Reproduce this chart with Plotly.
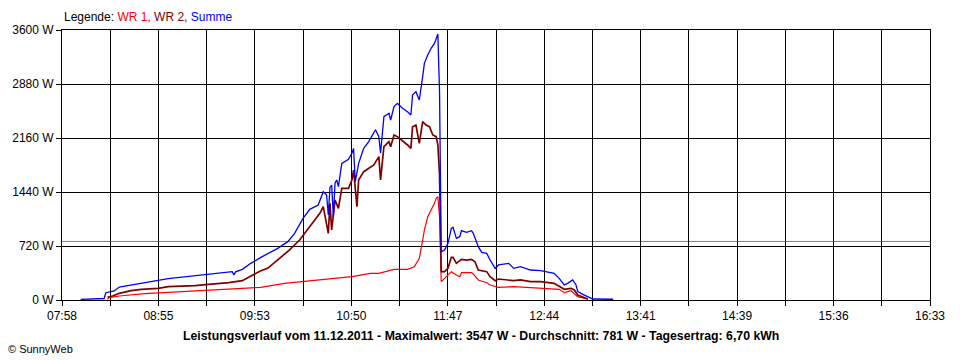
import plotly.graph_objects as go

# ---------------- data ----------------
time_sum = ["08:09","08:23","08:24","08:29","08:32","08:41","08:45","08:55","09:01","09:13",
            "09:25","09:29","09:39","09:40","09:41","09:45","09:50","09:56","10:00","10:06",
            "10:12","10:16","10:21","10:25","10:30","10:33","10:35","10:36","10:37","10:38",
            "10:39","10:40","10:41","10:42","10:44","10:48","10:50","10:51","10:52","10:54",
            "10:57","11:00","11:04","11:06","11:07","11:09","11:12","11:13","11:15","11:17",
            "11:20","11:23","11:25","11:26","11:28","11:30","11:32","11:33","11:35","11:37",
            "11:39","11:40","11:41","11:42","11:43","11:45","11:47","11:49","11:50","11:52",
            "11:54","11:55","11:58","12:01","12:02","12:05","12:07","12:10","12:12","12:15",
            "12:17","12:23","12:26","12:30","12:36","12:42","12:46","12:50","12:53","12:56",
            "12:58","13:01","13:03","13:04","13:07","13:10","13:13","13:25"]
val_sum = [8, 20, 97, 120, 173, 209, 231, 262, 284, 311,
           342, 347, 378, 333, 375, 409, 489, 569, 613, 689,
           778, 889, 1089, 1209, 1267, 1444, 1400, 1133, 1500, 1533,
           1111, 1560, 1600, 1511, 1822, 1876, 1956, 2022, 1578, 1822,
           2022, 2111, 2270, 2178, 1956, 2444, 2489, 2400, 2578, 2622,
           2556, 2511, 2467, 2733, 2778, 2667, 2978, 3156, 3267, 3356,
           3422, 3489, 3547, 2778, 644, 667, 756, 956, 969, 822,
           844, 924, 902, 924, 889, 711, 636, 622, 533, 422,
           467, 489, 422, 444, 400, 391, 378, 356, 289, 200,
           222, 267, 200, 111, 76, 44, 13, 10]

time_wr2 = ["08:25","08:28","08:32","08:39","08:45","08:55","09:01","09:17","09:25","09:37",
            "09:45","09:50","09:56","10:00","10:06","10:13","10:19","10:22","10:26","10:31",
            "10:33","10:36","10:37","10:38","10:40","10:42","10:44","10:48","10:50","10:51",
            "10:53","10:54","10:57","11:01","11:03","11:06","11:07","11:09","11:12","11:13",
            "11:15","11:17","11:21","11:23","11:25","11:26","11:28","11:30","11:32","11:34",
            "11:36","11:38","11:40","11:41","11:42","11:43","11:45","11:47","11:49","11:50",
            "11:52","11:54","11:55","11:58","12:01","12:03","12:05","12:10","12:12","12:15",
            "12:17","12:26","12:30","12:36","12:42","12:50","12:53","12:56","13:00","13:02",
            "13:04","13:07","13:10"]
val_wr2 = [36, 53, 89, 124, 142, 156, 178, 191, 209, 231,
           258, 320, 391, 422, 533, 667, 800, 889, 1000, 1156,
           1244, 889, 1289, 933, 1333, 1222, 1489, 1489, 1600, 1733,
           1244, 1600, 1711, 1778, 1800, 1911, 1600, 2044, 2111, 2044,
           2200, 2178, 2111, 2067, 2022, 2311, 2333, 2089, 2378, 2333,
           2311, 2200, 2178, 2067, 1667, 378, 378, 422, 569, 569,
           489, 530, 542, 533, 542, 511, 400, 378, 311, 258,
           280, 258, 267, 244, 244, 222, 187, 142, 156, 133,
           67, 36, 13]

time_wr1 = ["08:25","08:26","08:32","08:39","08:47","09:01","09:17","09:27","09:43","09:56",
            "10:10","10:30","10:50","11:01","11:06","11:15","11:23","11:27","11:30","11:32",
            "11:33","11:35","11:37","11:39","11:40","11:41","11:42","11:43","11:45","11:49",
            "11:52","11:54","11:55","12:01","12:02","12:05","12:10","12:12","12:17","12:26",
            "12:36","12:46","12:53","12:56","13:00","13:04","13:07","13:10"]
val_wr1 = [10, 31, 53, 71, 84, 102, 124, 133, 156, 169,
           222, 267, 311, 356, 356, 409, 409, 444, 556, 800,
           933, 1111, 1200, 1289, 1356, 1378, 1111, 244, 289, 378,
           333, 311, 364, 364, 347, 267, 231, 200, 169, 178,
           164, 156, 142, 98, 124, 44, 22, 10]

average_w = 781
y_ticks = [0, 720, 1440, 2160, 2880, 3600]
x_start, x_end = "07:58", "16:33"
x_tick_labels = ["07:58", "08:55", "09:53", "10:50", "11:47", "12:44",
                 "13:41", "14:39", "15:36", "16:33"]
legend_names = ["WR 1", "WR 2", "Summe"]
title_text = ("Leistungsverlauf vom 11.12.2011 - Maximalwert: 3547 W - "
              "Durchschnitt: 781 W - Tagesertrag: 6,70 kWh")


def to_min(s):
    h, m = s.split(":")
    return int(h) * 60 + int(m)


FONT = "Arial, Liberation Sans, sans-serif"
x0, x1 = to_min(x_start), to_min(x_end)
n_int = 2 * (len(x_tick_labels) - 1)
step = (x1 - x0) / n_int
tickvals = [x0 + k * step for k in range(n_int + 1)]
ticktext = [x_tick_labels[k // 2] if k % 2 == 0 else "" for k in range(n_int + 1)]

fig = go.Figure()
fig.add_trace(go.Scatter(x=[to_min(t) for t in time_wr1], y=val_wr1, mode="lines",
                         line=dict(color="#FF0000", width=1.2), name=legend_names[0]))
fig.add_trace(go.Scatter(x=[to_min(t) for t in time_wr2], y=val_wr2, mode="lines",
                         line=dict(color="#800000", width=1.7), name=legend_names[1]))
fig.add_trace(go.Scatter(x=[to_min(t) for t in time_sum], y=val_sum, mode="lines",
                         line=dict(color="#0000FF", width=1.3), name=legend_names[2]))

fig.add_shape(type="line", xref="paper", x0=0, x1=1, yref="y", y0=average_w, y1=average_w,
              line=dict(color="#808080", width=1), layer="below")

fig.update_layout(
    width=960, height=360,
    margin=dict(l=60, r=30, t=30, b=60),
    paper_bgcolor="white", plot_bgcolor="white",
    showlegend=False,
    font=dict(family=FONT, size=12, color="black"),
    xaxis=dict(range=[x0, x1], tickvals=tickvals, ticktext=ticktext,
               showgrid=True, gridcolor="black", gridwidth=1,
               showline=True, linecolor="black", linewidth=1, mirror=True,
               ticks="outside", ticklen=5, tickcolor="black", tickwidth=1,
               zeroline=False, tickfont=dict(family=FONT, size=12, color="black")),
    yaxis=dict(range=[0, 3600], tickvals=y_ticks, ticktext=[f"{v} W" for v in y_ticks],
               showgrid=True, gridcolor="black", gridwidth=1,
               showline=True, linecolor="black", linewidth=1, mirror=True,
               ticks="outside", ticklen=5, tickcolor="black", tickwidth=1,
               zeroline=False, tickfont=dict(family=FONT, size=12, color="black")),
)

legend_html = ("Legende: <span style='color:#FF0000'>" + legend_names[0] + ",</span> "
               "<span style='color:#800000'>" + legend_names[1] + ",</span> "
               "<span style='color:#0000FF'>" + legend_names[2] + "</span>")
fig.add_annotation(text=legend_html, xref="paper", yref="paper", x=0, y=1.0,
                   xanchor="left", yanchor="bottom", yshift=4, showarrow=False,
                   font=dict(family=FONT, size=12, color="black"))
fig.add_annotation(text="<b>" + title_text + "</b>", xref="paper", yref="paper",
                   x=0.483, y=-0.133, xanchor="center", yanchor="middle", showarrow=False,
                   font=dict(family=FONT, size=12.3, color="black"))
fig.add_annotation(text="© SunnyWeb", xref="paper", yref="paper",
                   x=-56 / 870, y=-49 / 270, xanchor="left", yanchor="middle", showarrow=False,
                   font=dict(family=FONT, size=11, color="black"))

fig.write_html("out.html", config={"displayModeBar": False},
               post_script="document.body.style.margin='0';document.body.style.overflow='hidden';")
